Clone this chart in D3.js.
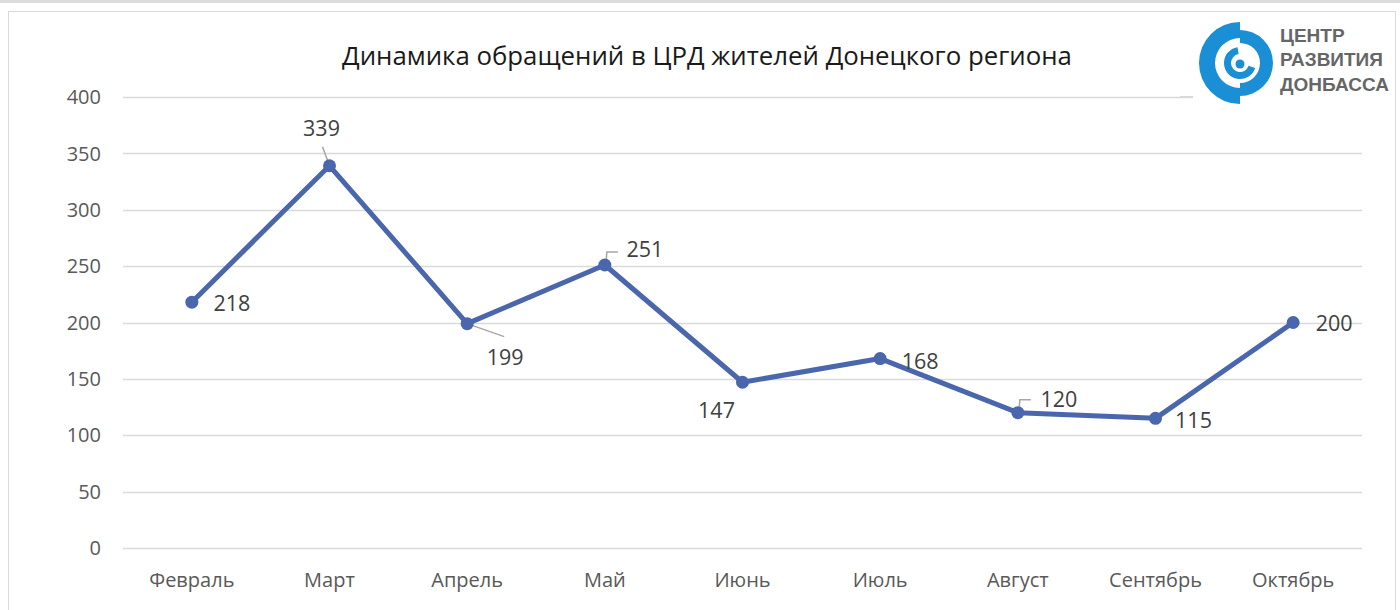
<!DOCTYPE html>
<html>
<head>
<meta charset="utf-8">
<script src="https://cdn.jsdelivr.net/npm/d3@7"></script>
<style>
  body { margin: 0; background: #fff; }
  svg { display: block; font-family: "Open Sans", "Noto Sans", sans-serif; }
</style>
</head>
<body>
<div id="viz"></div>
<script>
// chart data
var months = ["Февраль", "Март", "Апрель", "Май", "Июнь", "Июль", "Август", "Сентябрь", "Октябрь"];
var counts = [218, 339, 199, 251, 147, 168, 120, 115, 200];
var yTicks = [0, 50, 100, 150, 200, 250, 300, 350, 400];
var title = "Динамика обращений в ЦРД жителей Донецкого региона";
var logoLines = ["ЦЕНТР", "РАЗВИТИЯ", "ДОНБАССА"];

// label placement per point: dx, dy, leader
var labelPos = [
    {dx: 40, dy: 1},
    {dx: -8, dy: -38, leader: "tilt"},
    {dx: 38, dy: 34, leader: "down"},
    {dx: 40, dy: -16, leader: "elbow"},
    {dx: -26, dy: 28},
    {dx: 40, dy: 3},
    {dx: 41, dy: -13, leader: "elbow"},
    {dx: 38, dy: 2},
    {dx: 41, dy: 1}
];

var W = 1400, H = 610;
var svg = d3.select("#viz").append("svg").attr("width", W).attr("height", H);

// outer frame
svg.append("rect").attr("x", 0).attr("y", 0).attr("width", W).attr("height", 3).attr("fill", "#dcdcdc");
svg.append("rect").attr("x", 8.5).attr("y", 11.5).attr("width", 1387).attr("height", 610)
    .attr("fill", "none").attr("stroke", "#d9d9d9").attr("stroke-width", 1);

var x = d3.scalePoint().domain(months).range([123, 1362]).padding(0.5);
var y = d3.scaleLinear().domain([0, 400]).range([548, 97]);

// grid
svg.append("g").selectAll("line").data(yTicks).join("line")
    .attr("x1", 123).attr("x2", 1362)
    .attr("y1", d => Math.round(y(d)) + 0.5).attr("y2", d => Math.round(y(d)) + 0.5)
    .attr("stroke", "#d9d9d9").attr("stroke-width", 1.3);

// y axis labels
svg.append("g").selectAll("text").data(yTicks).join("text")
    .attr("x", 101).attr("y", d => y(d)).attr("dy", "0.36em")
    .attr("text-anchor", "end").attr("font-size", 20).attr("fill", "#595959")
    .text(d => d);

// x axis labels
svg.append("g").selectAll("text").data(months).join("text")
    .attr("x", d => x(d)).attr("y", 580).attr("dy", "0.36em")
    .attr("text-anchor", "middle").attr("font-size", 20).attr("fill", "#595959")
    .text(d => d);

// title
svg.append("text").attr("x", 707).attr("y", 56).attr("dy", "0.36em")
    .attr("text-anchor", "middle").attr("font-size", 25.8).attr("fill", "#1a1a1a")
    .text(title);

var pts = months.map((m, i) => ({m: m, v: counts[i], px: x(m), py: y(counts[i]), lp: labelPos[i]}));

// leader lines
var lead = svg.append("g").attr("stroke", "#a6a6a6").attr("stroke-width", 1.5).attr("fill", "none");
pts.forEach(function(p) {
    if (p.lp.leader == "tilt") {
        lead.append("line").attr("x1", p.px - 7).attr("y1", p.py - 19).attr("x2", p.px).attr("y2", p.py);
    } else if (p.lp.leader == "down") {
        lead.append("line").attr("x1", p.px).attr("y1", p.py).attr("x2", p.px + 37).attr("y2", p.py + 13);
    } else if (p.lp.leader == "elbow") {
        lead.append("polyline")
            .attr("points", [[p.px + 1, p.py], [p.px + 2, p.py - 13], [p.px + 13, p.py - 13]].map(a => a.join(",")).join(" "));
    }
});

// line
svg.append("path").datum(pts)
    .attr("d", d3.line().x(d => d.px).y(d => d.py))
    .attr("fill", "none").attr("stroke", "#4a66ac").attr("stroke-width", 5)
    .attr("stroke-linejoin", "round").attr("stroke-linecap", "round");

svg.append("g").selectAll("circle").data(pts).join("circle")
    .attr("cx", d => d.px).attr("cy", d => d.py).attr("r", 6.5)
    .attr("fill", "#4a66ac");

// value labels
svg.append("g").selectAll("text").data(pts).join("text")
    .attr("x", d => d.px + d.lp.dx).attr("y", d => d.py + d.lp.dy).attr("dy", "0.36em")
    .attr("text-anchor", "middle").attr("font-size", 21.5).attr("fill", "#404040")
    .text(d => d.v);

// logo
var logo = svg.append("g");
logo.append("rect").attr("x", 1193).attr("y", 12).attr("width", 202).attr("height", 92).attr("fill", "#fff");
logo.append("line").attr("x1", 1180).attr("x2", 1193).attr("y1", 96.5).attr("y2", 96.5).attr("stroke", "#d9d9d9");
var cx = 1240, cy = 63;
var blue = "#1a8fd6";
var arc = d3.arc();
var P = Math.PI;
var segs = [
    {r0: 25, r1: 41, a0: P, a1: 2 * P},
    {r0: 20, r1: 33, a0: 0, a1: P},
    {r0: 9, r1: 16, a0: 0.6 * P, a1: 1.95 * P}
];
logo.selectAll("path").data(segs).join("path")
    .attr("transform", "translate(" + cx + "," + cy + ")")
    .attr("d", d => arc({innerRadius: d.r0, outerRadius: d.r1, startAngle: d.a0, endAngle: d.a1}))
    .attr("fill", blue);
logo.append("circle").attr("cx", cx).attr("cy", cy + 1).attr("r", 4.5).attr("fill", blue);
logo.selectAll("text").data(logoLines).join("text")
    .attr("x", 1280).attr("y", (d, i) => 35 + i * 24.5).attr("dy", "0.36em")
    .attr("font-family", "'Liberation Sans', Arial, sans-serif")
    .attr("font-size", 19).attr("font-weight", "bold").attr("fill", "#666666")
    .text(d => d);
</script>
</body>
</html>
